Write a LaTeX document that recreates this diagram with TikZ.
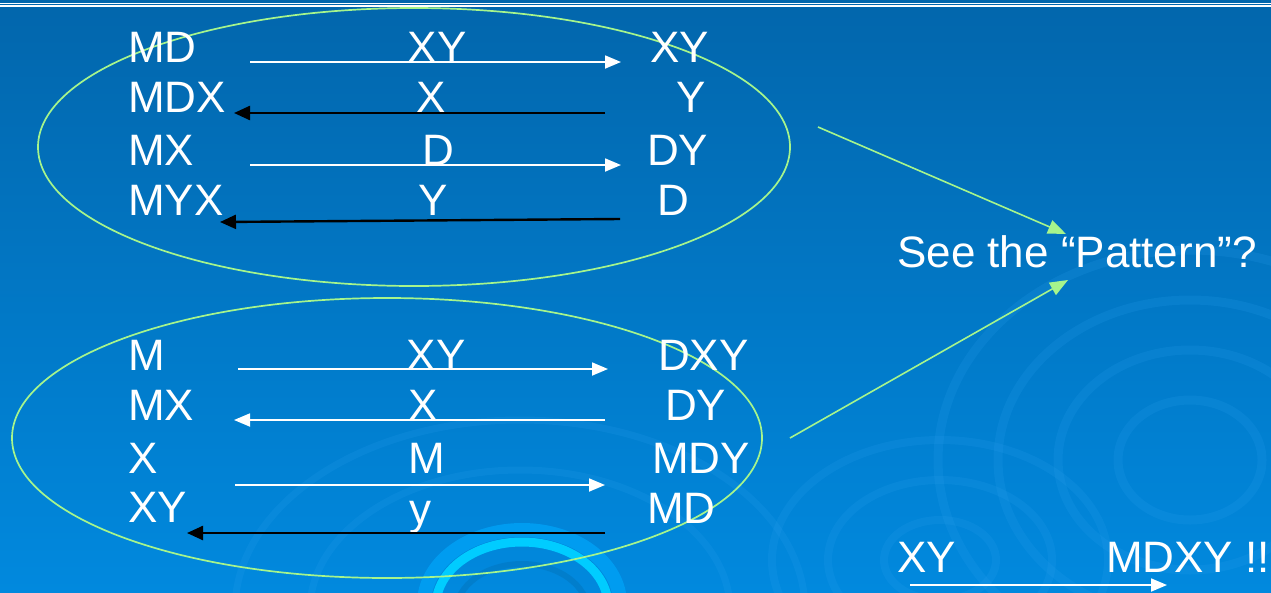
\documentclass[tikz,border=0pt]{standalone}
\usepackage{fontspec}
\setmainfont{Liberation Sans}
\usetikzlibrary{arrows.meta,shapes.geometric}
\definecolor{bgtop}{HTML}{0266AC}
\definecolor{bgbot}{HTML}{0189DE}
\definecolor{ringc}{HTML}{00CCFF}
\definecolor{ringb}{HTML}{009CF0}
\definecolor{ringf}{HTML}{2AA0EE}
\definecolor{lgreen}{HTML}{A6F58C}
\begin{document}
\begin{tikzpicture}[x=1pt,y=-1pt,
  lbl/.style={text=white,font=\fontsize{44}{44}\selectfont,inner sep=0pt},
  lw/.style={lbl,anchor=base west},
  lc/.style={lbl,anchor=base},
  warr/.style={white,line width=1.8pt,-{Triangle[length=16pt,width=13pt]}},
  barr/.style={black,line width=2.4pt,-{Triangle[length=16pt,width=14pt]}},
  garr/.style={lgreen,line width=1.6pt,-{Triangle[length=18pt,width=14pt]}},
  group/.style={draw=lgreen,line width=1.7pt}]
\useasboundingbox (0,0) rectangle (1271,592);
% background
\shade[top color=bgtop,bottom color=bgbot] (0,0) rectangle (1271,592);
% ripples
\begin{scope}[opacity=0.18]
  \foreach \r in {60,110,160,210}{\draw[ringf,line width=9pt] (1190,460) ellipse ({\r*1.2} and \r);}
  \foreach \r in {40,80,120}{\draw[ringf,line width=8pt] (940,560) ellipse ({\r*1.4} and \r);}
  \foreach \r in {140,190}{\draw[ringf,line width=7pt] (520,610) ellipse ({\r*1.5} and \r);}
\end{scope}
\draw[ringb,line width=14pt] (522,604) ellipse (98 and 74);
\draw[ringc,line width=9pt] (522,606) ellipse (86 and 64);
\draw[bgbot!85!black,line width=6pt,opacity=0.5] (522,612) ellipse (66 and 48);
% top rule
\draw[white,line width=1pt] (0,3) -- (1271,3);
\draw[white,line width=1.4pt] (0,5.8) -- (1271,5.8);
% group ellipses
\node[group,ellipse,minimum width=752pt,minimum height=278pt,inner sep=0pt] (g1) at (414,147) {};
\node[group,ellipse,minimum width=750pt,minimum height=280pt,inner sep=0pt] (g2) at (387,438) {};
% ---- top group
\node[lw] (a1) at (128,62) {MD};
\node[lc] (b1) at (437,62) {XY};
\node[lw] (c1) at (650,62) {XY};
\node[lw] (a2) at (128,112) {MDX};
\node[lc] (b2) at (431,112) {X};
\node[lw] (c2) at (676,112) {Y};
\node[lw] (a3) at (128,165) {MX};
\node[lc] (b3) at (438,165) {D};
\node[lw] (c3) at (647,165) {DY};
\node[lw] (a4) at (128,215) {MYX};
\node[lc] (b4) at (433,215) {Y};
\node[lw] (c4) at (657,215) {D};
\coordinate (p1s) at (250,62);  \coordinate (p1e) at (621,62);
\coordinate (p2s) at (605,113); \coordinate (p2e) at (234,113);
\coordinate (p3s) at (250,165); \coordinate (p3e) at (621,165);
\coordinate (p4s) at (620,219); \coordinate (p4e) at (220,222);
\draw[warr] (p1s) -- (p1e);
\draw[barr] (p2s) -- (p2e);
\draw[warr] (p3s) -- (p3e);
\draw[barr] (p4s) -- (p4e);
% ---- bottom group
\node[lw] (d1) at (128,370) {M};
\node[lc] (e1) at (436,370) {XY};
\node[lw] (f1) at (658,370) {DXY};
\node[lw] (d2) at (128,420) {MX};
\node[lc] (e2) at (423,420) {X};
\node[lw] (f2) at (665,420) {DY};
\node[lw] (d3) at (128,473) {X};
\node[lc] (e3) at (427,473) {M};
\node[lw] (f3) at (652,473) {MDY};
\node[lw] (d4) at (128,522) {XY};
\node[lc] (e4) at (420,524) {y};
\node[lw] (f4) at (647,523) {MD};
\coordinate (q1s) at (238,369); \coordinate (q1e) at (608,369);
\coordinate (q2s) at (605,420); \coordinate (q2e) at (234,420);
\coordinate (q3s) at (235,485); \coordinate (q3e) at (605,485);
\coordinate (q4s) at (605,533); \coordinate (q4e) at (187,533);
\draw[warr] (q1s) -- (q1e);
\draw[warr] (q2s) -- (q2e);
\draw[warr] (q3s) -- (q3e);
\draw[barr] (q4s) -- (q4e);
% ---- pattern
\node[lw] (pat) at (897,267) {See the “Pattern”?};
\coordinate (t1) at (818,127);
\coordinate (t2) at (790,438);
\coordinate (h1) at (1066,234);
\coordinate (h2) at (1068,280);
\draw[garr] (t1) -- (h1);
\draw[garr] (t2) -- (h2);
% ---- result
\node[lw] (r1) at (897,572) {XY};
\node[lw] (r2) at (1106,572) {MDXY !!};
\coordinate (rs) at (910,585);
\coordinate (re) at (1167,585);
\draw[warr] (rs) -- (re);
\end{tikzpicture}
\end{document}
